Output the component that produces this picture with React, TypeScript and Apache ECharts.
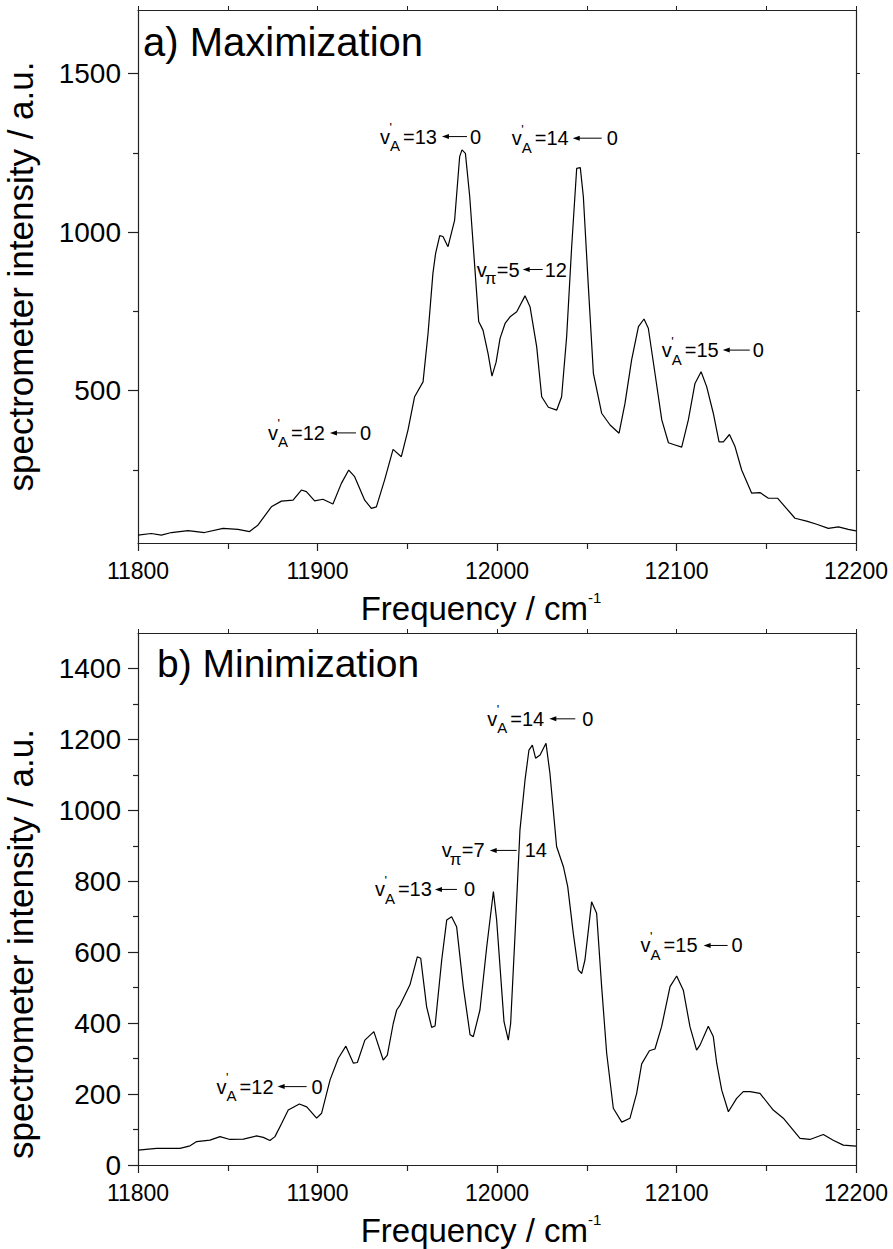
import React, { useEffect, useRef } from "react";
import * as echarts from "echarts";

const FONT = "'Liberation Sans', Arial, Helvetica, sans-serif";

// ---------- data: a) Maximization ----------
const topFreq = [
  11800, 11807.4, 11813, 11818.6, 11827.9, 11837, 11847.4, 11855.7, 11862.2, 11866.9,
  11874.3, 11879.9, 11886.4, 11891, 11893.8, 11898.4, 11903, 11908.6, 11913.3, 11917.4,
  11920.7, 11926.3, 11930, 11932.8, 11937.4, 11942.1, 11946.7, 11950.4, 11954.1, 11958.8,
  11961.6, 11964.3, 11965.8, 11968.1, 11969.9, 11972.7, 11976.4, 11979.2, 11980.5, 11982.4,
  11984.8, 11987.6, 11989.8, 11992.2, 11995, 11997.2, 11999.5, 12001.7, 12004.5, 12007.3,
  12011, 12015.6, 12018.4, 12022.1, 12024.9, 12028.6, 12033.3, 12036, 12038.8, 12041.6,
  12044.4, 12046.4, 12048.1, 12050.9, 12053.7, 12058.3, 12063, 12068, 12071.3, 12075,
  12078.8, 12081.9, 12084.3, 12088, 12091.8, 12095.5, 12099.2, 12102.9, 12106.6, 12110.3,
  12113.7, 12116.8, 12120.5, 12123.7, 12126.1, 12129.5, 12132.6, 12136.3, 12141.9, 12146.5,
  12151.2, 12156.4, 12160.5, 12166, 12172.5, 12178.1, 12184.6, 12190.2, 12195.7, 12200,
];
const topIntensity = [
  45, 50, 45, 53, 59, 53, 66, 63, 56, 77,
  134, 152, 155, 187, 182, 153, 158, 143, 208, 250,
  229, 155, 129, 134, 219, 315, 292, 376, 481, 528,
  681, 870, 933, 989, 986, 954, 1038, 1238, 1259, 1248,
  1112, 891, 718, 691, 618, 546, 590, 665, 712, 733,
  749, 799, 765, 639, 481, 448, 439, 481, 670, 954,
  1201, 1203, 1112, 828, 555, 429, 392, 366, 460, 597,
  702, 726, 697, 555, 408, 336, 329, 322, 408, 523,
  560, 513, 429, 339, 339, 362, 324, 250, 177, 179,
  161, 161, 134, 98, 89, 79, 66, 71, 63, 58,
];

// ---------- data: b) Minimization ----------
const bottomFreq = [
  11800, 11810.4, 11823.4, 11829, 11832.7, 11840.1, 11845.7, 11851.2, 11858.7, 11866,
  11869.8, 11873.5, 11876.3, 11880, 11883.7, 11889.9, 11894, 11899.5, 11902.3, 11907,
  11911.6, 11915.8, 11920, 11922.2, 11926.4, 11931.4, 11936.6, 11938.9, 11942.2, 11944.1,
  11946, 11951.5, 11955.6, 11957.5, 11960.8, 11963.6, 11965.5, 11969.2, 11972, 11974.7,
  11977.5, 11981.2, 11985, 11986.8, 11990.5, 11994.3, 11998, 11999.8, 12003.9, 12006.3,
  12007.6, 12010, 12012.8, 12015.6, 12017.8, 12019.7, 12021.5, 12024, 12027.3, 12029.5,
  12033.2, 12037, 12039.4, 12042.5, 12045.3, 12047.2, 12049, 12052.7, 12055.5, 12058.3,
  12061.1, 12064.8, 12069.5, 12074.1, 12077.8, 12080.6, 12084.9, 12088, 12091.7, 12096.4,
  12100.1, 12103.8, 12107.5, 12111.2, 12113.1, 12117.7, 12120.5, 12122.4, 12125.2, 12128.9,
  12133.5, 12137.2, 12141, 12146.5, 12153.9, 12159.5, 12168.8, 12174.3, 12181.8, 12187.3,
  12192.9, 12200,
];
const bottomIntensity = [
  42, 47, 47, 54, 66, 70, 80, 72, 73, 82,
  78, 69, 80, 117, 155, 172, 164, 132, 146, 240,
  301, 335, 287, 289, 352, 376, 296, 310, 399, 437,
  451, 508, 587, 583, 446, 388, 392, 578, 691, 700,
  672, 503, 367, 362, 437, 616, 771, 691, 404, 352,
  399, 644, 945, 1085, 1170, 1184, 1147, 1156, 1189, 1104,
  898, 841, 785, 653, 550, 540, 578, 742, 710, 503,
  315, 160, 121, 132, 202, 285, 322, 327, 390, 503,
  533, 493, 390, 324, 338, 391, 362, 287, 211, 150,
  188, 207, 207, 202, 155, 132, 75, 72, 86, 70,
  56, 53,
];

// ---------- ticks ----------
const xMin = 11800;
const xMax = 12200;
const topYMajor = [500, 1000, 1500];
const topYMinor = [250, 750, 1250];
const topYRight = [250, 500, 750, 1000, 1250, 1500];
const bottomYMajor = [0, 200, 400, 600, 800, 1000, 1200, 1400];
const bottomYMinor = [100, 300, 500, 700, 900, 1100, 1300];
const bottomYRight = [100, 200, 300, 400, 500, 600, 700, 800, 900, 1000, 1100, 1200, 1300, 1400];

// ---------- annotations (anchor in data coordinates) ----------
type Ann = { x: number; y: number; sub: string; prime: boolean; lhs: string; rhs: string };
const topAnnotations: Ann[] = [
  { x: 11872.4, y: 367, sub: "A", prime: true, lhs: "=12", rhs: "0" },
  { x: 11934.8, y: 1301, sub: "A", prime: true, lhs: "=13", rhs: "0" },
  { x: 12008.2, y: 1296, sub: "A", prime: true, lhs: "=14", rhs: "0" },
  { x: 11988.7, y: 882, sub: "π", prime: false, lhs: "=5", rhs: "12" },
  { x: 12091.8, y: 628, sub: "A", prime: true, lhs: "=15", rhs: "0" },
];
const bottomAnnotations: Ann[] = [
  { x: 11843.8, y: 221, sub: "A", prime: true, lhs: "=12", rhs: "0" },
  { x: 11932, y: 777, sub: "A", prime: true, lhs: "=13", rhs: "0" },
  { x: 11969.2, y: 887, sub: "π", prime: false, lhs: "=7", rhs: "14" },
  { x: 11994.6, y: 1258, sub: "A", prime: true, lhs: "=14", rhs: "0" },
  { x: 12080, y: 619, sub: "A", prime: true, lhs: "=15", rhs: "0" },
];
// arrow head x, arrow tail x, right text x (pixel offsets inside each label)
const topArrowLayout = [[62, 88, 92], [62, 87, 90], [61, 90, 95], [46, 66, 68], [61, 88, 91]];
const bottomArrowLayout = [[61, 90, 95], [60, 82, 89], [48, 75, 83], [62, 88, 95], [63, 87, 91]];

const AXIS_COLOR = "#222";

function xAxes(gridIndex: number) {
  return [
    {
      type: "value",
      gridIndex,
      position: "bottom",
      min: xMin,
      max: xMax,
      interval: 100,
      axisLine: { show: true, onZero: false, lineStyle: { color: AXIS_COLOR, width: 1.2 } },
      axisTick: { show: true, length: 8, lineStyle: { color: AXIS_COLOR, width: 1.2 } },
      minorTick: { show: true, splitNumber: 2, length: 6, lineStyle: { color: AXIS_COLOR, width: 1.2 } },
      splitLine: { show: false },
      axisLabel: { fontSize: 23, color: "#000", fontFamily: FONT, margin: 16, formatter: (v: number) => String(v) },
      name: "Frequency / cm{sup|-1}",
      nameLocation: "middle",
      nameGap: 47,
      nameTextStyle: {
        fontSize: 33,
        fontFamily: FONT,
        color: "#000",
        lineHeight: 36,
        padding: [0, 32, 0, 0],
        rich: { sup: { fontSize: 15, fontFamily: FONT, color: "#000", verticalAlign: "top", lineHeight: 15 } },
      },
    },
    {
      type: "value",
      gridIndex,
      position: "top",
      min: xMin,
      max: xMax,
      interval: 50,
      axisLine: { show: true, onZero: false, lineStyle: { color: AXIS_COLOR, width: 1.2 } },
      axisTick: { show: true, length: 4, lineStyle: { color: AXIS_COLOR, width: 1 } },
      splitLine: { show: false },
      axisLabel: { show: false },
    },
  ];
}

function yAxes(
  gridIndex: number,
  min: number,
  max: number,
  major: number[],
  minor: number[],
  right: number[],
  namePad: number[]
) {
  return [
    {
      type: "value",
      gridIndex,
      position: "left",
      min,
      max,
      axisLine: { show: true, onZero: false, lineStyle: { color: AXIS_COLOR, width: 1.2 } },
      axisTick: { show: true, length: 10, customValues: major, lineStyle: { color: AXIS_COLOR, width: 1.2 } },
      splitLine: { show: false },
      axisLabel: {
        fontSize: 28,
        lineHeight: 22,
        color: "#000",
        fontFamily: FONT,
        margin: 17,
        customValues: major,
        formatter: (v: number) => String(v),
      },
      name: "spectrometer intensity / a.u.",
      nameLocation: "middle",
      nameGap: 100,
      nameTextStyle: { fontSize: 35, fontFamily: FONT, color: "#000", padding: namePad },
    },
    {
      type: "value",
      gridIndex,
      position: "left",
      min,
      max,
      axisLine: { show: false },
      axisTick: { show: true, length: 5, customValues: minor, lineStyle: { color: AXIS_COLOR, width: 1.2 } },
      splitLine: { show: false },
      axisLabel: { show: false },
    },
    {
      type: "value",
      gridIndex,
      position: "right",
      min,
      max,
      axisLine: { show: true, onZero: false, lineStyle: { color: AXIS_COLOR, width: 1.2 } },
      axisTick: { show: true, length: 4, customValues: right, lineStyle: { color: AXIS_COLOR, width: 1 } },
      splitLine: { show: false },
      axisLabel: { show: false },
    },
  ];
}

function buildLabel(chart: any, a: Ann, layout: number[], xAxisIndex: number, yAxisIndex: number) {
  const p = chart.convertToPixel({ xAxisIndex, yAxisIndex }, [a.x, a.y]);
  const [aHead, aTail, rX] = layout;
  const txt = (text: string, x: number, y: number, size: number) => ({
    type: "text",
    x,
    y,
    silent: true,
    style: {
      text,
      fontSize: size,
      fontFamily: FONT,
      fill: "#000",
      align: "left",
      textAlign: "left",
      verticalAlign: "middle",
      textVerticalAlign: "middle",
    },
  });
  const isPi = !a.prime;
  const children: any[] = [txt("v", 0, 0, 20)];
  if (a.prime) children.push(txt("'", 9.5, -9, 13));
  children.push(txt(a.sub, isPi ? 8 : 10, 9, isPi ? 17 : 15));
  children.push(txt(a.lhs, isPi ? 20 : 23, 0, 20));
  children.push({
    type: "line",
    silent: true,
    shape: { x1: aHead + 5, y1: 0, x2: aTail, y2: 0 },
    style: { stroke: "#000", lineWidth: 1 },
  });
  children.push({
    type: "polygon",
    silent: true,
    shape: { points: [[aHead, 0], [aHead + 7, -2.5], [aHead + 7, 2.5]] },
    style: { fill: "#000" },
  });
  children.push(txt(a.rhs, rX, 0, 20));
  return { type: "group", x: p[0], y: p[1], children };
}

export default function App() {
  const ref = useRef<HTMLDivElement>(null);

  useEffect(() => {
    document.body.style.margin = "0";
    if (!ref.current) return;
    const chart = echarts.init(ref.current, undefined, { renderer: "svg" });

    const option: any = {
      animation: false,
      backgroundColor: "#ffffff",
      title: [
        {
          text: "a) Maximization",
          left: 143,
          top: 22,
          padding: 0,
          textStyle: { fontSize: 40, fontWeight: "normal", fontFamily: FONT, color: "#000" },
        },
        {
          text: "b) Minimization",
          left: 157,
          top: 644,
          padding: 0,
          textStyle: { fontSize: 39, fontWeight: "normal", fontFamily: FONT, color: "#000" },
        },
      ],
      grid: [
        { left: 138, top: 10, width: 718, height: 533, containLabel: false, outerBoundsMode: "none" },
        { left: 138, top: 633, width: 718, height: 532, containLabel: false, outerBoundsMode: "none" },
      ],
      xAxis: [...xAxes(0), ...xAxes(1)],
      yAxis: [
        ...yAxes(0, 20, 1700, topYMajor, topYMinor, topYRight, [0, 0, 0, 0]),
        ...yAxes(1, 0, 1500, bottomYMajor, bottomYMinor, bottomYRight, [0, 90, 0, 0]),
      ],
      series: [
        {
          type: "line",
          name: "Maximization",
          xAxisIndex: 0,
          yAxisIndex: 0,
          data: topFreq.map((f, i) => [f, topIntensity[i]]),
          symbol: "none",
          showSymbol: false,
          smooth: false,
          silent: true,
          lineStyle: { color: "#000", width: 1.2 },
        },
        {
          type: "line",
          name: "Minimization",
          xAxisIndex: 2,
          yAxisIndex: 3,
          data: bottomFreq.map((f, i) => [f, bottomIntensity[i]]),
          symbol: "none",
          showSymbol: false,
          smooth: false,
          silent: true,
          lineStyle: { color: "#000", width: 1.2 },
        },
      ],
    };
    chart.setOption(option);

    const elements = [
      ...topAnnotations.map((a, i) => buildLabel(chart, a, topArrowLayout[i], 0, 0)),
      ...bottomAnnotations.map((a, i) => buildLabel(chart, a, bottomArrowLayout[i], 2, 3)),
    ];
    chart.setOption({ graphic: { elements } });

    return () => {
      chart.dispose();
    };
  }, []);

  return (
    <div
      ref={ref}
      style={{ position: "absolute", left: 0, top: 0, width: 893, height: 1249, background: "#fff" }}
    />
  );
}
